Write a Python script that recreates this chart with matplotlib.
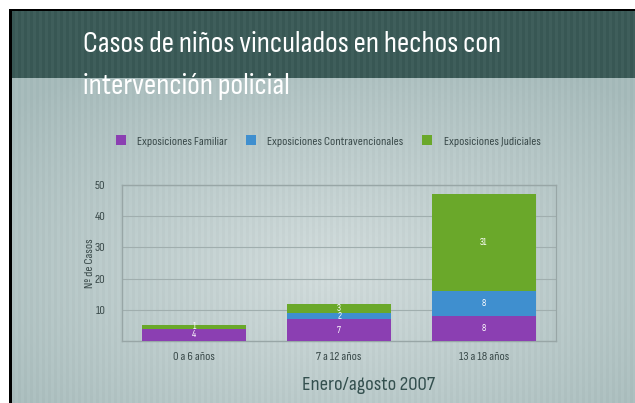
import numpy as np
import matplotlib
matplotlib.use("Agg")
import matplotlib.pyplot as plt
from matplotlib.patches import Rectangle

plt.rcParams['font.family'] = ['Sofia Sans Condensed', 'DejaVu Sans']

categories = ["0 a 6 años", "7 a 12 años", "13 a 18 años"]
series_names = ["Exposiciones Familiar", "Exposiciones Contravencionales", "Exposiciones Judiciales"]
familiar = [4, 7, 8]
contravencionales = [0, 2, 8]
judiciales = [1, 3, 31]
colors = ["#8b3fb2", "#3f8fcf", "#6aa82a"]

W, H = 635, 403
fig = plt.figure(figsize=(W / 100, H / 100), dpi=100)

# background
bg = fig.add_axes([0, 0, 1, 1])
bg.set_xlim(0, W)
bg.set_ylim(H, 0)
bg.axis('off')
yy, xx = np.mgrid[0:H, 0:W]
cx, cy = 330, 270
d = np.sqrt(((xx - cx) / 430.0) ** 2 + ((yy - cy) / 240.0) ** 2)
light = np.array([0.83, 0.87, 0.87])
dark = np.array([0.66, 0.74, 0.74])
t = np.clip(d, 0, 1)[..., None]
img = light * (1 - t) + dark * t
stripe = ((xx // 3) % 2 == 0)[..., None] * 0.018
img = img - stripe
band = yy < 78
top_col = np.array([0.25, 0.37, 0.36])
img[band] = top_col - stripe[band] * 1.5
img[:10, :] = 1.0
img[:, :9] = 1.0
img = np.clip(img, 0, 1)
bg.imshow(img, extent=(0, W, H, 0), aspect='auto', interpolation='nearest')
bg.add_patch(Rectangle((9, 9), W - 9, 2, color='black', lw=0))
bg.add_patch(Rectangle((9, 9), 2.5, H - 9, color='black', lw=0))

fig.text(83 / W, 1 - 45 / H, "Casos de niños vinculados en hechos con", color='white',
         fontsize=22, va='center', ha='left', fontweight='bold')
fig.text(83 / W, 1 - 86 / H, "intervención policial", color='white',
         fontsize=22, va='center', ha='left', fontweight='bold')

# chart
ax = fig.add_axes([122 / W, 1 - 341 / H, 434 / W, (341 - 185) / H])
ax.patch.set_alpha(0)
x = np.arange(len(categories))
bw = 0.72
bottoms = np.zeros(len(categories))
for vals, name, col in zip([familiar, contravencionales, judiciales], series_names, colors):
    vals = np.array(vals, dtype=float)
    ax.bar(x, vals, bw, bottom=bottoms, color=col, label=name, zorder=3)
    for xi, v, b in zip(x, vals, bottoms):
        if v > 0:
            ax.text(xi, b + v / 2, f"{int(v)}", color='white', fontsize=7,
                    ha='center', va='center', zorder=4)
    bottoms += vals

ax.set_xlim(-0.5, 2.5)
ax.set_ylim(0, 50)
ax.set_yticks([10, 20, 30, 40, 50])
ax.set_xticks(x)
ax.set_xticklabels(categories)
ax.tick_params(axis='both', length=0, colors='#3a4a4a', labelsize=9)
ax.tick_params(axis='x', pad=8)
ax.tick_params(axis='y', pad=12)
ax.grid(axis='y', color='#a0aeae', lw=0.8, zorder=0)
for s in ax.spines.values():
    s.set_color('#98a6a6')
    s.set_linewidth(1.0)
ax.set_ylabel("Nº de Casos", color='#3a4a4a', fontsize=9, labelpad=0, fontweight='bold')

leg = fig.legend(loc='center', bbox_to_anchor=(328 / W, 1 - 141 / H), ncol=3,
                 frameon=False, fontsize=9, handlelength=0.8, handleheight=0.8,
                 columnspacing=1.5, handletextpad=0.9)
for txt in leg.get_texts():
    txt.set_color('#3a4a4a')

fig.text(369 / W, 1 - 385 / H, "Enero/agosto 2007", color='#34504f', fontsize=15,
         ha='center', va='center', fontweight='bold')

fig.savefig("out.png", dpi=100)
